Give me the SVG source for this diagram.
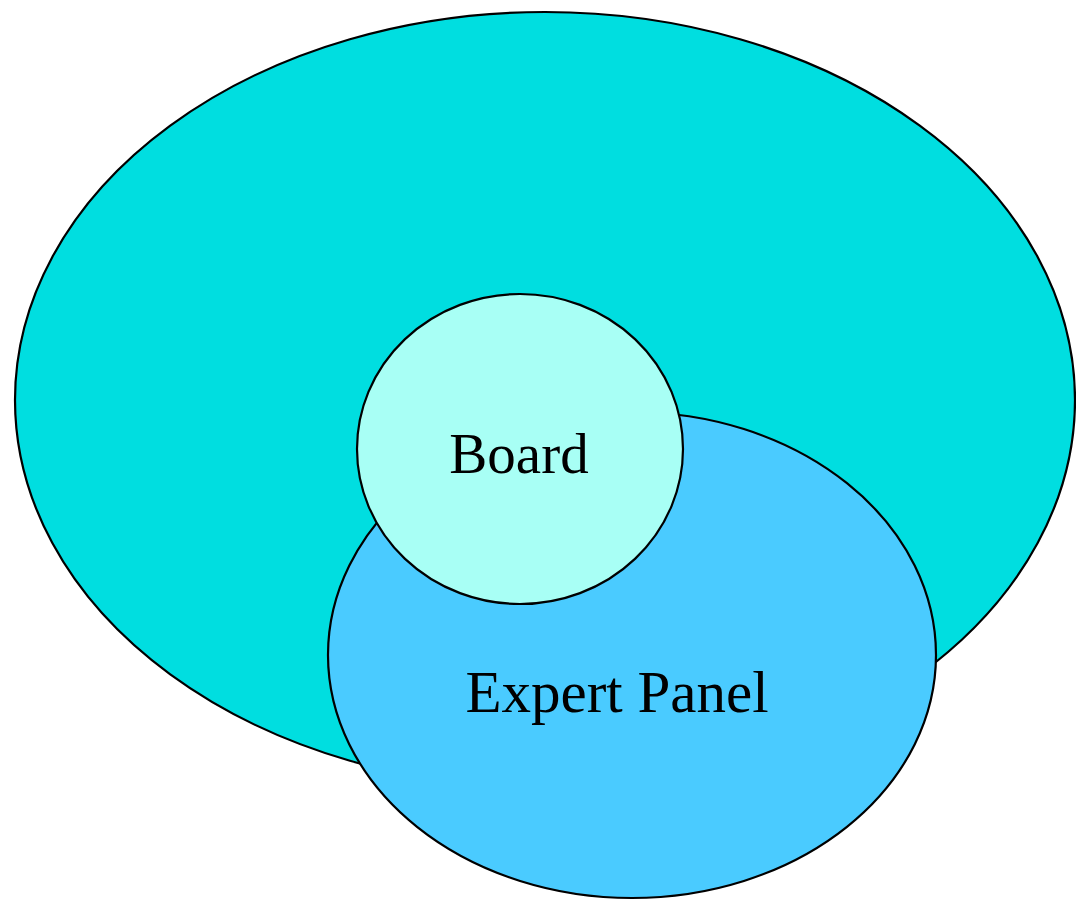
<svg xmlns="http://www.w3.org/2000/svg" width="1076" height="900" viewBox="0 0 1076 900">
<style>
.shape{stroke:#000;stroke-width:2.2}
.lbl{font-family:"Liberation Serif","Times New Roman",serif;font-size:57px;fill:#000;text-anchor:middle}
</style>
<rect width="1076" height="900" fill="#fff"/>
<g id="organization">
<ellipse class="shape" cx="545" cy="400" rx="530" ry="388" fill="#00DEE0"/>
</g>
<g id="expert-panel">
<ellipse class="shape" cx="632" cy="655" rx="304" ry="243" fill="#4ACBFF"/>
<text class="lbl" x="617" y="712" style="font-size:59px">Expert Panel</text>
</g>
<g id="board">
<ellipse class="shape" cx="520" cy="449" rx="163" ry="155" fill="#A8FFF5"/>
<text class="lbl" x="519" y="473">Board</text>
</g>
<g id="connectors"></g>
</svg>
